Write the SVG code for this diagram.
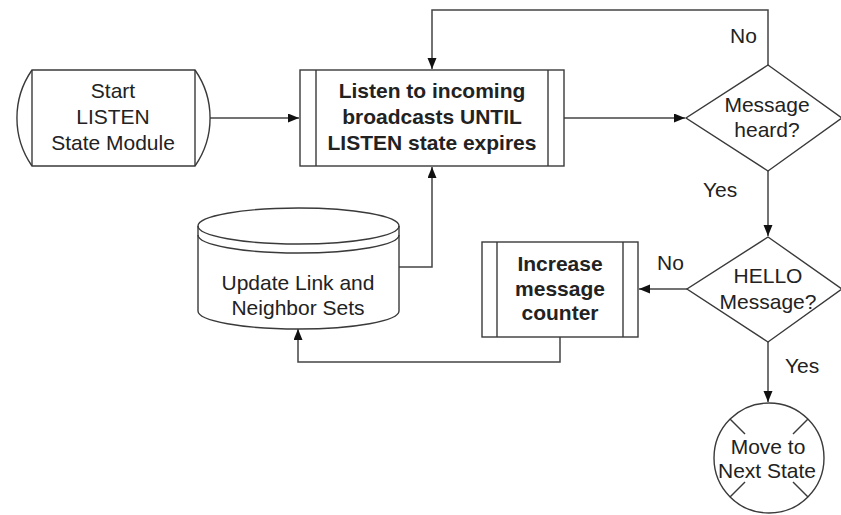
<svg xmlns="http://www.w3.org/2000/svg" width="841" height="515" viewBox="0 0 841 515">
  <style>
    .shape { fill: #ffffff; stroke: #3a3a3a; stroke-width: 1.4; }
    .line { fill: none; stroke: #3a3a3a; stroke-width: 1.4; }
    .edge { fill: none; stroke: #444444; stroke-width: 1.5; }
    .t { font-family: "Liberation Sans", Arial, sans-serif; font-size: 21px; fill: #222222; text-anchor: middle; }
    .b { font-weight: bold; }
    .lbl { font-family: "Liberation Sans", Arial, sans-serif; font-size: 21px; fill: #222222; }
  </style>
  <defs>
    <marker id="arrow" markerUnits="userSpaceOnUse" markerWidth="12" markerHeight="10" refX="11" refY="4.5" orient="auto">
      <path d="M0,0 L11,4.5 L0,9 z" fill="#111111"/>
    </marker>
  </defs>

  <rect width="841" height="515" fill="#ffffff"/>

  <!-- connectors -->
  <g id="connectors">
    <path class="edge" d="M209,118 L299,118" marker-end="url(#arrow)"/>
    <path class="edge" d="M564,118 L685,118" marker-end="url(#arrow)"/>
    <path class="edge" d="M768,65 L768,10 L432,10 L432,69" marker-end="url(#arrow)"/>
    <path class="edge" d="M768,171 L768,236" marker-end="url(#arrow)"/>
    <path class="edge" d="M687,289 L639,289" marker-end="url(#arrow)"/>
    <path class="edge" d="M768,342 L768,402" marker-end="url(#arrow)"/>
    <path class="edge" d="M560,337 L560,362 L298,362 L298,329" marker-end="url(#arrow)"/>
    <path class="edge" d="M399,267 L432,267 L432,167" marker-end="url(#arrow)"/>
    <text class="lbl" x="730" y="43">No</text>
    <text class="lbl" x="703" y="197">Yes</text>
    <text class="lbl" x="657" y="270">No</text>
    <text class="lbl" x="785" y="373">Yes</text>
  </g>

  <!-- start terminator -->
  <g id="start">
    <path class="shape" d="M32,70 L195,70 A84,84 0 0 1 195,166 L32,166 A84,84 0 0 1 32,70 z"/>
    <line class="line" x1="32" y1="70" x2="32" y2="166"/>
    <line class="line" x1="195" y1="70" x2="195" y2="166"/>
    <text class="t" x="113" y="98">Start</text>
    <text class="t" x="113" y="124">LISTEN</text>
    <text class="t" x="113" y="150">State Module</text>
  </g>

  <!-- listen process -->
  <g id="listen">
    <rect class="shape" x="300" y="70" width="264" height="96"/>
    <line class="line" x1="316" y1="70" x2="316" y2="166"/>
    <line class="line" x1="548" y1="70" x2="548" y2="166"/>
    <text class="t b" x="432" y="98">Listen to incoming</text>
    <text class="t b" x="432" y="124">broadcasts UNTIL</text>
    <text class="t b" x="432" y="150">LISTEN state expires</text>
  </g>

  <!-- message heard decision -->
  <g id="heard">
    <polygon class="shape" points="768,65 842,118 768,171 686,118"/>
    <text class="t" x="767" y="112">Message</text>
    <text class="t" x="767" y="137">heard?</text>
  </g>

  <!-- hello decision -->
  <g id="hello">
    <polygon class="shape" points="768,237 842,289 768,342 687,289"/>
    <text class="t" x="768" y="283">HELLO</text>
    <text class="t" x="768" y="309">Message?</text>
  </g>

  <!-- increase counter process -->
  <g id="increase">
    <rect class="shape" x="482" y="242" width="156" height="95"/>
    <line class="line" x1="497" y1="242" x2="497" y2="337"/>
    <line class="line" x1="623" y1="242" x2="623" y2="337"/>
    <text class="t b" x="560" y="271">Increase</text>
    <text class="t b" x="560" y="296">message</text>
    <text class="t b" x="560" y="320">counter</text>
  </g>

  <!-- link and neighbor set store -->
  <g id="store">
    <path class="shape" d="M198,226 L198,311 A100.5,18 0 0 0 399,311 L399,226 A100.5,18 0 0 0 198,226 z"/>
    <path class="line" d="M198,226 A100.5,18 0 0 0 399,226"/>
    <path class="line" d="M198,235 A100.5,18 0 0 0 399,235"/>
    <text class="t" x="298" y="290">Update Link and</text>
    <text class="t" x="298" y="315">Neighbor Sets</text>
  </g>

  <!-- next state connector -->
  <g id="next">
    <circle class="shape" cx="769" cy="458" r="55"/>
    <line class="line" x1="730" y1="419" x2="745" y2="434"/>
    <line class="line" x1="808" y1="419" x2="793" y2="434"/>
    <line class="line" x1="730" y1="497" x2="745" y2="482"/>
    <line class="line" x1="808" y1="497" x2="793" y2="482"/>
    <text class="t" x="768" y="454">Move to</text>
    <text class="t" x="767" y="478">Next State</text>
  </g>
</svg>
